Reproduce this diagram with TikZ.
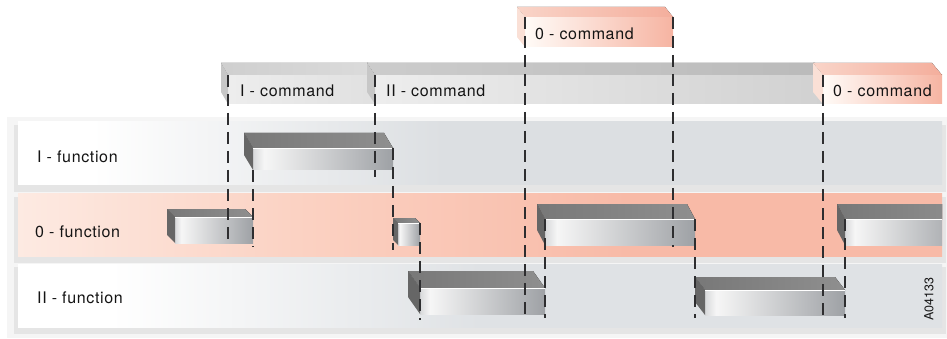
\documentclass[tikz,border=0pt]{standalone}
\usepackage{fontspec}
\setmainfont{TeX Gyre Heros}
\newfontfamily\labfont[LetterSpace=4]{TeX Gyre Heros}
\usetikzlibrary{calc}
\definecolor{laneIg}{HTML}{DCDFE2}
\definecolor{laneIIg}{HTML}{DFE2E5}
\definecolor{laneOa}{HTML}{FDEAE2}
\definecolor{laneOb}{HTML}{FBD2C3}
\definecolor{laneOc}{HTML}{F8BAA7}
\definecolor{frA}{HTML}{D8D9DB}
\definecolor{frB}{HTML}{F6F6F6}
\definecolor{frC}{HTML}{9EA1A5}
\definecolor{dashc}{HTML}{2E2E30}
\pgfdeclarehorizontalshading{laneIsh}{100bp}{color(0bp)=(white); color(29bp)=(white); color(48bp)=(laneIg); color(100bp)=(laneIg)}
\pgfdeclarehorizontalshading{laneIIsh}{100bp}{color(0bp)=(white); color(30bp)=(white); color(50bp)=(laneIIg); color(100bp)=(laneIIg)}
\pgfdeclarehorizontalshading{laneOsh}{100bp}{color(0bp)=(laneOa); color(25bp)=(laneOa); color(40bp)=(laneOb); color(58bp)=(laneOc); color(100bp)=(laneOc)}
\pgfdeclarehorizontalshading{funfrontsh}{100bp}{color(0bp)=(frA); color(25bp)=(frA); color(29bp)=(frB); color(75bp)=(frC); color(100bp)=(frC)}
\tikzset{
  lanebox/.style={draw=none, inner sep=0pt, outer sep=0pt, anchor=north west},
  funfront/.style={draw=none, inner sep=0pt, outer sep=0pt, shading=funfrontsh},
  funtop/.style={left color=black!53!white, right color=black!44!white},
  funside/.style={fill=black!60!white},
  icmdfront/.style={draw=none, inner sep=0pt, outer sep=0pt, left color=black!7, right color=black!12},
  icmdtop/.style={left color=black!19, right color=black!14},
  icmdside/.style={fill=black!22},
  iicmdfront/.style={draw=none, inner sep=0pt, outer sep=0pt, left color=black!7, right color=black!18},
  iicmdtop/.style={left color=black!20, right color=black!27},
  iicmdside/.style={fill=black!22},
  ocmdfront/.style={draw=none, inner sep=0pt, outer sep=0pt, left color=red!4!orange!3!white, right color={rgb,255:red,246;green,180;blue,162}},
  ocmdtop/.style={left color={rgb,255:red,249;green,212;blue,200}, right color={rgb,255:red,244;green,174;blue,156}},
  ocmdside/.style={fill={rgb,255:red,250;green,224;blue,214}},
  dashln/.style={draw=dashc, line width=1.5pt, dash pattern=on 12pt off 7pt},
  lbl/.style={font=\labfont\fontsize{16}{18}\selectfont, anchor=base west, inner sep=0pt, text=black!92},
}
% #1 name, #2 x, #3 y, #4 w, #5 h, #6 dx, #7 dy, #8 style prefix
\newcommand\solidbox[8]{%
  \node[#8front, minimum width=#4pt, minimum height=#5pt, anchor=north west] (#1) at (#2,#3) {};
  \fill[#8top] (#1.north west) -- ++(-#6,-#7) -- ($(#1.north east)+(-#6,-#7)$) -- (#1.north east) -- cycle;
  \fill[#8side] (#1.north west) -- ++(-#6,-#7) -- ++(0,#5) -- (#1.south west) -- cycle;
}
\begin{document}
\begin{tikzpicture}[x=1pt,y=-1pt]
\useasboundingbox (0,0) rectangle (947,339);
% background shadow
\fill[black!4] (7,117) rectangle (947,338);
\fill[black!10] (14,125) rectangle (946,192);
\fill[black!10] (14,197) rectangle (946,263);
\fill[black!10] (14,267) rectangle (946,334);
% lanes
\node[lanebox, shading=laneIsh, minimum width=924pt, minimum height=63pt] (laneI) at (18,122) {};
\node[lanebox, shading=laneOsh, minimum width=924pt, minimum height=62pt] (laneO) at (18,194) {};
\node[lanebox, shading=laneIIsh, minimum width=924pt, minimum height=63pt] (laneII) at (18,264) {};
% commands
\solidbox{icmd}{228}{75}{147}{29}{7}{12}{icmd}
\solidbox{iicmd}{375}{75}{448}{29}{8}{12}{iicmd}
\solidbox{ocmdB}{823}{75}{119}{29}{10}{12}{ocmd}
\solidbox{ocmdA}{525}{17}{148}{30}{8}{10}{ocmd}
% function bars
\solidbox{ifun}{253}{148}{140}{22}{9}{15}{fun}
\solidbox{ofunA}{175}{217}{78}{26}{8}{8}{fun}
\solidbox{ofunB}{398}{223}{22}{22}{5}{5}{fun}
\solidbox{ofunC}{545}{219}{150}{26}{8}{15}{fun}
\begin{scope}
\clip (0,0) rectangle (942,339);
\solidbox{ofunD}{845}{219}{120}{26}{8}{15}{fun}
\end{scope}
\solidbox{iifunA}{420}{288}{125}{26}{12}{17}{fun}
\solidbox{iifunB}{705}{290}{140}{25}{10}{13}{fun}
\foreach \b in {ifun,ofunA,ofunB,ofunC,iifunA,iifunB}{\draw[white, line width=0.8pt] (\b.north west) -- (\b.north east);}
\draw[white, line width=0.8pt] (ofunD.north west) -- (942,219);
% labels
\node[lbl] (ticmd) at (240,97) {I - command};
\node[lbl] (tiicmd) at (386,97) {II - command};
\node[lbl] (tocmdA) at (535,40) {0 - command};
\node[lbl] (tocmdB) at (833,97) {0 - command};
\node[lbl] (tifun) at (37,163) {I - function};
\node[lbl] (tofun) at (35,237) {0 - function};
\node[lbl] (tiifun) at (37,303) {II - function};
\node[rotate=90, inner sep=0pt, font=\fontsize{12.5}{14}\selectfont, text=black!90] (code) at (929,299) {A04133};
% dashed timing lines
\draw[dashln] (icmd.north west) -- (icmd.north west |- ofunA.south);
\draw[dashln] (ifun.south west) -- ($(ofunA.south east)+(0,4)$);
\draw[dashln] (icmd.north east) -- ($(icmd.north east |- ifun.south)+(0,7)$);
\draw[dashln] (ifun.north east) -- ($(ifun.north east |- ofunB.south)+(0,5)$);
\draw[dashln] (ofunB.north east) -- ($(iifunA.south west)+(0,6)$);
\draw[dashln] (ocmdA.north west) -- ($(ocmdA.north west |- iifunA.south)+(0,6)$);
\draw[dashln] (ofunC.north west) -- ($(iifunA.south east)+(0,4)$);
\draw[dashln] (ocmdA.north east) -- ($(ocmdA.north east |- ofunC.south)+(0,2)$);
\draw[dashln] (ofunC.north east) -- ($(ofunC.north east |- iifunB.south)+(0,3)$);
\draw[dashln] (iicmd.north east) -- ($(iicmd.north east |- iifunB.south)+(0,3)$);
\draw[dashln] (ofunD.north west) -- ($(iifunB.south east)+(0,3)$);
\end{tikzpicture}
\end{document}
